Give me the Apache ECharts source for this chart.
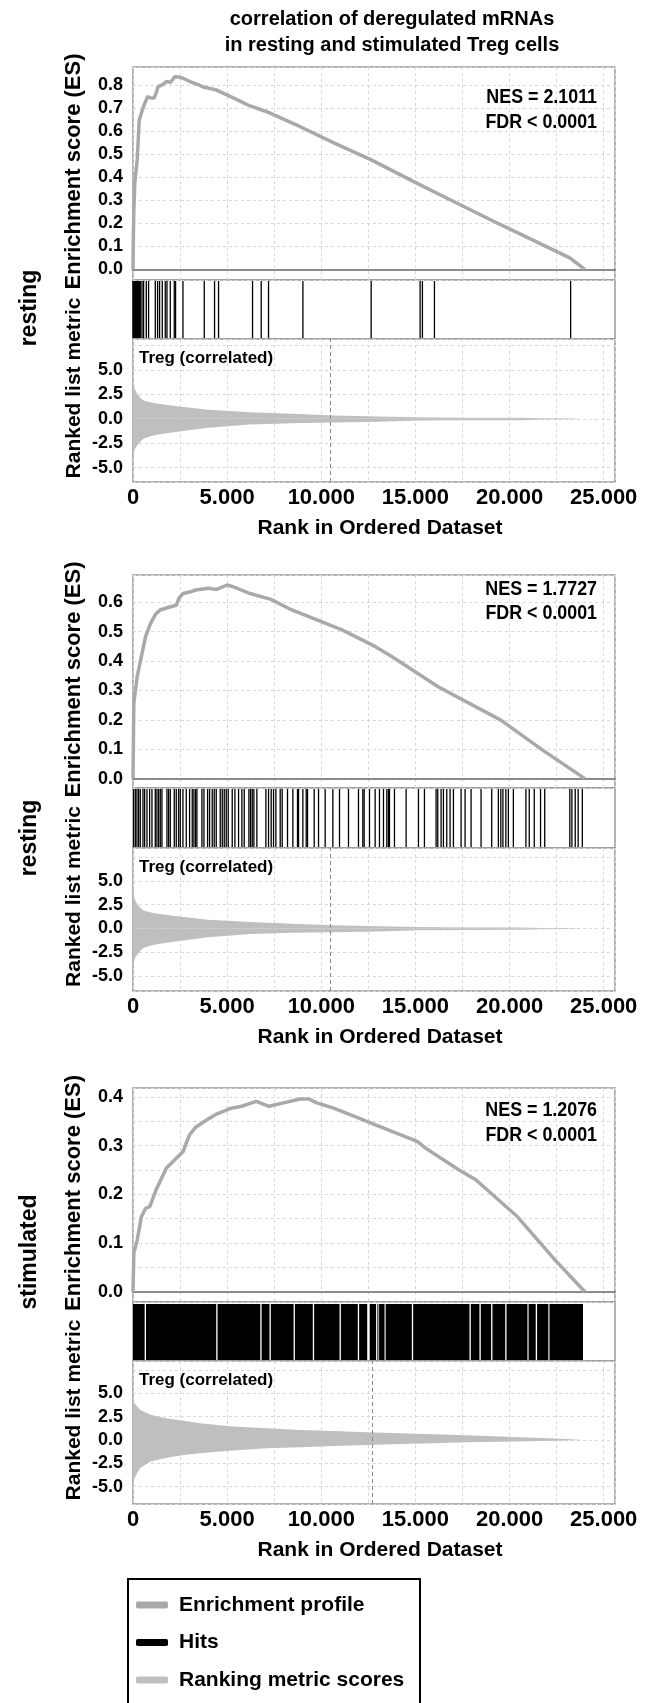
<!DOCTYPE html>
<html><head><meta charset="utf-8">
<script src="https://cdn.jsdelivr.net/npm/echarts@6/dist/echarts.min.js"></script>
<style>html,body{margin:0;padding:0;background:#fff}#c{width:654px;height:1703px}</style>
</head><body><div id="c"></div>
<script>
// ---------------- DATA ----------------
const titleLines = ['correlation of deregulated mRNAs', 'in resting and stimulated Treg cells'];
const panelLabels = ['resting', 'resting', 'stimulated'];
const nesTexts = ['NES = 2.1011', 'NES = 1.7727', 'NES = 1.2076'];
const fdrTexts = ['FDR < 0.0001', 'FDR < 0.0001', 'FDR < 0.0001'];
const metricLabel = 'Treg (correlated)';
const xTickLabels = ['0', '5.000', '10.000', '15.000', '20.000', '25.000'];
const legendNames = ['Enrichment profile', 'Hits', 'Ranking metric scores'];

// Enrichment score curves (rank, ES)
const esRank1 = [0, 20, 44, 100, 222, 333, 450, 555, 700, 777, 900, 1110, 1250, 1332, 1550, 1776, 2000, 2220, 2400, 2664, 3100, 3500, 3774, 4100, 4440, 5300, 6216, 7104, 8880, 10700, 12654, 15096, 15984, 19500, 23199, 24000];
const esVal1  = [0, 0.15, 0.258, 0.38, 0.475, 0.648, 0.68, 0.706, 0.735, 0.75, 0.745, 0.742, 0.77, 0.793, 0.80, 0.815, 0.812, 0.836, 0.835, 0.829, 0.812, 0.80, 0.79, 0.785, 0.778, 0.745, 0.709, 0.684, 0.619, 0.548, 0.475, 0.373, 0.337, 0.195, 0.05, 0];
const esRank2 = [0, 44, 222, 444, 666, 932, 1200, 1443, 2000, 2300, 2442, 2664, 3000, 3330, 3996, 4440, 4995, 5328, 6216, 7326, 8436, 9768, 11100, 12876, 13764, 16206, 19536, 21756, 24000];
const esVal2  = [0, 0.256, 0.347, 0.415, 0.483, 0.528, 0.56, 0.574, 0.585, 0.59, 0.614, 0.63, 0.635, 0.642, 0.648, 0.644, 0.659, 0.653, 0.63, 0.61, 0.574, 0.54, 0.506, 0.449, 0.415, 0.3125, 0.199, 0.097, 0];
const esRank3 = [0, 44, 222, 444, 666, 888, 1221, 1776, 2220, 2664, 2775, 3000, 3330, 3996, 4440, 5217, 5772, 6549, 7215, 7992, 8880, 9324, 9768, 10656, 11766, 12876, 13986, 15096, 15540, 17316, 18204, 20424, 22422, 24000];
const esVal3  = [0, 0.079, 0.106, 0.154, 0.171, 0.175, 0.209, 0.254, 0.271, 0.288, 0.300, 0.322, 0.338, 0.355, 0.365, 0.377, 0.381, 0.391, 0.381, 0.388, 0.396, 0.396, 0.388, 0.377, 0.36, 0.343, 0.326, 0.309, 0.295, 0.25, 0.23, 0.154, 0.065, 0];

// Hits (ranks of gene-set members)
const hits1 = [0, 30, 60, 95, 130, 165, 200, 240, 280, 320, 360, 388, 478, 563, 706, 828, 1184, 1306, 1412, 1555, 1714, 1805, 1980, 2192, 2261, 2654, 3785, 4331, 4544, 6349, 6810, 7198, 9024, 12650, 15250, 15372, 16010, 23243];
const hits2 = [34, 122, 211, 299, 388, 529, 618, 742, 883, 1007, 1184, 1272, 1361, 1449, 1538, 1803, 1891, 1980, 2192, 2298, 2422, 2511, 2652, 2829, 3006, 3147, 3236, 3324, 3395, 3660, 3767, 3961, 4067, 4209, 4315, 4421, 4633, 4740, 4846, 4952, 5058, 5270, 5412, 5606, 5783, 5907, 6155, 6243, 6332, 6420, 6579, 7057, 7198, 7340, 7464, 7588, 7818, 7924, 8207, 8490, 8737, 8792, 9022, 9199, 9270, 9624, 9854, 10207, 10614, 10968, 11446, 11976, 12206, 12277, 12560, 12861, 13091, 13303, 13480, 13569, 13622, 13887, 14506, 15161, 15479, 16098, 16187, 16364, 16488, 16664, 16841, 17018, 17425, 17637, 17956, 18486, 19052, 19406, 19536, 19647, 19802, 19936, 20202, 20868, 21046, 21312, 21645, 21867, 23199, 23310, 23488, 23643, 23865];
// Panel 3: hits are so dense they form solid blocks (start, end ranks)
const hitBlocks3 = [[0, 620], [690, 4420], [4490, 6760], [6830, 7250], [7320, 8530], [8600, 9550], [9620, 10970], [11040, 11940], [12010, 12440], [12570, 12910], [12980, 13000], [13070, 13360], [13420, 14810], [14880, 17870], [17940, 18400], [18470, 19020], [19090, 19770], [19840, 20950], [21010, 21390], [21460, 22060], [22120, 23900]];

// Ranked list metric envelopes
const metRank12 = [0, 40, 100, 222, 400, 555, 900, 1332, 2442, 3996, 6216, 8436, 10656, 13000, 15096, 17760, 20646, 21756, 23000, 23800, 23900];
const metUp12   = [4.3, 3.6, 3.0, 2.57, 2.15, 1.88, 1.7, 1.54, 1.27, 0.92, 0.68, 0.51, 0.34, 0.25, 0.17, 0.12, 0.10, 0.06, 0.05, 0.03, 0];
const metLow12  = [-4.3, -3.6, -3.1, -2.74, -2.3, -2.05, -1.8, -1.61, -1.30, -0.92, -0.58, -0.45, -0.38, -0.30, -0.17, -0.15, -0.14, -0.08, -0.04, -0.02, 0];
const metRank3  = [0, 60, 212, 388, 918, 1805, 2690, 3572, 4460, 5340, 7110, 8880, 10650, 12420, 14190, 15960, 17730, 19500, 21700, 23000, 23900];
const metUp3    = [5.0, 4.0, 3.6, 3.2, 2.7, 2.3, 2.07, 1.79, 1.6, 1.43, 1.25, 1.07, 0.96, 0.82, 0.71, 0.6, 0.5, 0.36, 0.2, 0.1, 0];
const metLow3   = [-5.0, -4.2, -3.6, -3.0, -2.3, -1.9, -1.6, -1.43, -1.25, -1.14, -0.9, -0.79, -0.64, -0.54, -0.43, -0.36, -0.25, -0.18, -0.1, -0.05, 0];
const zeroCross = [10500, 10500, 12700];

// ---------------- LAYOUT / STYLE ----------------
const FONT = 'Liberation Sans, Arial, sans-serif';
const X_MAX = 25600;
const GRID_LEFT = 133, GRID_RIGHT = 39;
const panels = [
  {esTop: 67,   esBot: 280,  hitsBot: 339,  metBot: 482,  esMin: -0.046, esMax: 0.878,  esStep: 0.1,  metMin: -6.48, metMax: 8.19, labelY: 308,  nesY: 97,   fdrY: 122},
  {esTop: 575,  esBot: 788,  hitsBot: 848,  metBot: 991,  esMin: -0.032, esMax: 0.693,  esStep: 0.1,  metMin: -6.54, metMax: 8.43, labelY: 838,  nesY: 589,  fdrY: 613},
  {esTop: 1088, esBot: 1302, hitsBot: 1361, metBot: 1504, esMin: -0.021, esMax: 0.4185, esStep: 0.05, metMin: -6.86, metMax: 8.46, labelY: 1252, nesY: 1110, fdrY: 1135}
];
const esData = [[esRank1, esVal1], [esRank2, esVal2], [esRank3, esVal3]];
const metData = [[metRank12, metUp12, metLow12], [metRank12, metUp12, metLow12], [metRank3, metUp3, metLow3]];
const hitsData = [hits1, hits2, null];

const ES_COLOR = '#a9a9a9', MET_COLOR = '#bfbfbf', HIT_COLOR = '#000';
const gridLine = {show: true, lineStyle: {color: '#d9d9d9', type: [3, 3], width: 1}};
const yLabelStyle = {fontFamily: FONT, fontWeight: 'bold', fontSize: 18, color: '#000'};
const xLabelStyle = {fontFamily: FONT, fontWeight: 'bold', fontSize: 22, color: '#000'};
const zip = (a, b) => a.map((v, i) => [v, b[i]]);

const grids = [], xAxes = [], yAxes = [], series = [], graphics = [];

const xLabelFmt = v => (v % 5000 === 0 && v / 5000 < xTickLabels.length) ? xTickLabels[v / 5000] : '';

panels.forEach((p, i) => {
  const gEs = grids.length;
  grids.push({left: GRID_LEFT, right: GRID_RIGHT, top: p.esTop, height: p.esBot - p.esTop, show: true, borderColor: '#9a9a9a', borderWidth: 1.5, backgroundColor: '#fff'});
  grids.push({left: GRID_LEFT, right: GRID_RIGHT, top: p.esBot, height: p.hitsBot - p.esBot, show: true, borderColor: '#9a9a9a', borderWidth: 1.5, backgroundColor: '#fff'});
  grids.push({left: GRID_LEFT, right: GRID_RIGHT, top: p.hitsBot, height: p.metBot - p.hitsBot, show: true, borderColor: '#9a9a9a', borderWidth: 1.5, backgroundColor: '#fff'});

  // x axes
  xAxes.push({gridIndex: gEs, type: 'value', min: 0, max: X_MAX, interval: 2500,
    axisLabel: {show: false}, axisTick: {show: false},
    axisLine: {show: true, onZero: true, lineStyle: {color: '#6a6a6a', width: 1.5}},
    splitLine: gridLine});
  xAxes.push({gridIndex: gEs + 1, type: 'value', min: 0, max: X_MAX, interval: 2500,
    axisLabel: {show: false}, axisTick: {show: false}, axisLine: {show: false}, splitLine: {show: false}});
  xAxes.push({gridIndex: gEs + 2, type: 'value', min: 0, max: X_MAX, interval: 2500,
    axisLine: {show: false, onZero: false}, axisTick: {show: false},
    axisLabel: Object.assign({margin: 5, formatter: xLabelFmt}, xLabelStyle),
    splitLine: gridLine,
    name: 'Rank in Ordered Dataset', nameLocation: 'middle', nameGap: 36,
    nameTextStyle: {fontFamily: FONT, fontWeight: 'bold', fontSize: 21, color: '#000', padding: [0, 0, 0, 12]}});

  // y axes
  const step = p.esStep;
  yAxes.push({gridIndex: gEs, type: 'value', min: p.esMin, max: p.esMax, minInterval: step, maxInterval: step,
    axisLine: {show: false}, axisTick: {show: false}, splitLine: gridLine, showMinLabel: false, showMaxLabel: false,
    axisLabel: Object.assign({margin: 10, formatter: v => {
      const r = Math.round(v * 10) / 10;
      if (Math.abs(v - r) > 1e-6 || r < -1e-9) return '';
      return Math.abs(r).toFixed(1);
    }}, yLabelStyle)});
  yAxes.push({gridIndex: gEs + 1, type: 'value', min: 0, max: 1, show: false, splitLine: {show: false}});
  yAxes.push({gridIndex: gEs + 2, type: 'value', min: p.metMin, max: p.metMax, minInterval: 2.5, maxInterval: 2.5,
    axisLine: {show: false}, axisTick: {show: false}, splitLine: gridLine, showMinLabel: false, showMaxLabel: false,
    axisLabel: Object.assign({margin: 10, formatter: v => {
      const r = Math.round(v * 2) / 2;
      if (Math.abs(v - r) > 1e-6 || Math.abs(r) > 5.0001) return '';
      return (Math.abs(r) < 1e-9 ? 0 : r).toFixed(1);
    }}, yLabelStyle)});

  // series: enrichment profile
  series.push({type: 'line', name: 'Enrichment profile', xAxisIndex: gEs, yAxisIndex: gEs,
    data: zip(esData[i][0], esData[i][1]), showSymbol: false, symbol: 'none', z: 5,
    lineStyle: {color: ES_COLOR, width: 3.5}, itemStyle: {color: ES_COLOR}});

  // series: hits
  if (hitsData[i]) {
    series.push({type: 'custom', name: 'Hits', xAxisIndex: gEs + 1, yAxisIndex: gEs + 1,
      data: hitsData[i].map(r => [r]), encode: {x: 0}, itemStyle: {color: HIT_COLOR},
      renderItem: (params, api) => {
        const x = api.coord([api.value(0), 0])[0];
        const cs = params.coordSys;
        return {type: 'line', shape: {x1: x, y1: cs.y + 1, x2: x, y2: cs.y + cs.height - 1},
          style: {stroke: HIT_COLOR, lineWidth: 1.3}};
      }});
  } else {
    series.push({type: 'custom', name: 'Hits', xAxisIndex: gEs + 1, yAxisIndex: gEs + 1,
      data: hitBlocks3, encode: {x: [0, 1]}, itemStyle: {color: HIT_COLOR},
      renderItem: (params, api) => {
        const x0 = api.coord([api.value(0), 0])[0];
        const x1 = api.coord([api.value(1), 0])[0];
        const cs = params.coordSys;
        return {type: 'rect', shape: {x: x0, y: cs.y + 2, width: Math.max(x1 - x0, 1), height: cs.height - 3},
          style: {fill: HIT_COLOR}};
      }});
  }

  // series: ranked list metric
  const md = metData[i];
  series.push({type: 'line', name: 'Ranking metric scores', xAxisIndex: gEs + 2, yAxisIndex: gEs + 2,
    data: zip(md[0], md[1]), showSymbol: false, symbol: 'none', lineStyle: {width: 0, color: MET_COLOR},
    itemStyle: {color: MET_COLOR}, areaStyle: {color: MET_COLOR, opacity: 1},
    markLine: {silent: true, symbol: 'none', label: {show: false},
      lineStyle: {color: '#8a8a8a', type: [4, 3], width: 1},
      data: [{xAxis: zeroCross[i]}]}});
  series.push({type: 'line', name: 'Ranking metric scores', xAxisIndex: gEs + 2, yAxisIndex: gEs + 2,
    data: zip(md[0], md[2]), showSymbol: false, symbol: 'none', lineStyle: {width: 0, color: MET_COLOR},
    itemStyle: {color: MET_COLOR}, areaStyle: {color: MET_COLOR, opacity: 1}});

  // texts
  graphics.push({type: 'text', x: 597, y: p.nesY, z: 10, scaleX: 0.85, style: {text: nesTexts[i], fill: '#000',
    font: 'bold 21px ' + FONT, align: 'right', verticalAlign: 'middle'}});
  graphics.push({type: 'text', x: 597, y: p.fdrY, z: 10, scaleX: 0.85, style: {text: fdrTexts[i], fill: '#000',
    font: 'bold 21px ' + FONT, align: 'right', verticalAlign: 'middle'}});
  graphics.push({type: 'text', x: 139, y: p.hitsBot + 19, z: 10, style: {text: metricLabel, fill: '#000',
    font: 'bold 17px ' + FONT, align: 'left', verticalAlign: 'middle'}});
  graphics.push({type: 'text', x: 74, y: (p.esTop + p.esBot) / 2 - 2, rotation: Math.PI / 2, z: 10,
    style: {text: 'Enrichment score (ES)', fill: '#000', font: 'bold 22px ' + FONT, align: 'center', verticalAlign: 'middle'}});
  graphics.push({type: 'text', x: 74, y: (p.esBot + p.metBot) / 2 + 7, rotation: Math.PI / 2, z: 10,
    style: {text: 'Ranked list metric', fill: '#000', font: 'bold 21px ' + FONT, align: 'center', verticalAlign: 'middle'}});
  graphics.push({type: 'text', x: 30, y: p.labelY, rotation: Math.PI / 2, z: 10,
    style: {text: panelLabels[i], fill: '#000', font: 'bold 23px ' + FONT, align: 'center', verticalAlign: 'middle'}});
});

graphics.push({type: 'text', x: 392, y: 19, style: {text: titleLines[0], fill: '#000', font: 'bold 20px ' + FONT, align: 'center', verticalAlign: 'middle'}});
graphics.push({type: 'text', x: 392, y: 45, style: {text: titleLines[1], fill: '#000', font: 'bold 20px ' + FONT, align: 'center', verticalAlign: 'middle'}});
// legend frame (extends past the bottom edge, as in the reference)
graphics.push({type: 'rect', shape: {x: 128, y: 1579, width: 292, height: 200}, style: {fill: null, stroke: '#000', lineWidth: 2}});

const legendColors = [ES_COLOR, HIT_COLOR, MET_COLOR];
const option = {
  animation: false,
  backgroundColor: '#fff',
  grid: grids, xAxis: xAxes, yAxis: yAxes, series: series, graphic: graphics,
  legend: {
    data: legendNames.map((n, k) => ({name: n, itemStyle: {color: legendColors[k]}})),
    orient: 'vertical', left: 128, top: 1579, icon: 'roundRect', itemWidth: 32, itemHeight: 7, itemGap: 15.5,
    padding: [15, 12, 2, 8], selectedMode: false,
    textStyle: {fontFamily: FONT, fontWeight: 'bold', fontSize: 21, color: '#000', lineHeight: 22, padding: [0, 0, 0, 6]}
  }
};
const chart = echarts.init(document.getElementById('c'), null, {width: 654, height: 1703});
chart.setOption(option);
</script>
</body></html>
